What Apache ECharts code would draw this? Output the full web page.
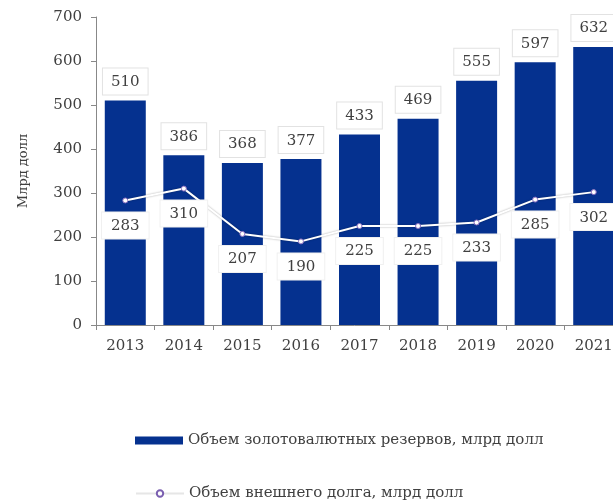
<!DOCTYPE html>
<html><head><meta charset="utf-8">
<script src="https://cdn.jsdelivr.net/npm/echarts@6/dist/echarts.min.js"></script>
<style>html,body{margin:0;padding:0;background:#fff;overflow:hidden}#c{width:613px;height:500px}</style>
</head><body><div id="c"></div>
<script>
var years = ['2013','2014','2015','2016','2017','2018','2019','2020','2021'];
var reserves = [510, 386, 368, 377, 433, 469, 555, 597, 632];
var debt = [283, 310, 207, 190, 225, 225, 233, 285, 302];
var yTicks = {min: 0, max: 700, interval: 100};
var reservesName = 'Объем золотовалютных резервов, млрд долл';
var debtName = 'Объем внешнего долга, млрд долл';
var yName = 'Млрд долл';

var FONT = 'DejaVu Serif';
var TXT = '#404040';
var chart = echarts.init(document.getElementById('c'));
var boxLabel = {
  show: true, fontFamily: FONT, fontSize: 15, color: TXT,
  backgroundColor: '#fff', borderColor: '#e2e2e2', borderWidth: 1,
  padding: [6, 8, 5, 8]
};
var legendBase = {
  orient: 'horizontal', left: 130, itemWidth: 48, itemHeight: 8,
  textStyle: {fontFamily: FONT, fontSize: 15, color: TXT}
};
chart.setOption({
  animation: false,
  backgroundColor: '#fff',
  grid: {left: 96, top: 17, bottom: 175, width: 527, containLabel: false, outerBoundsMode: 'none'},
  xAxis: {
    type: 'category', data: years,
    axisLine: {lineStyle: {color: '#888'}},
    axisTick: {show: true, length: 5, lineStyle: {color: '#888'}},
    axisLabel: {fontFamily: FONT, fontSize: 15, color: TXT, margin: 14}
  },
  yAxis: {
    type: 'value', min: yTicks.min, max: yTicks.max, interval: yTicks.interval,
    name: yName, nameLocation: 'middle', nameRotate: 90, nameGap: 66,
    nameTextStyle: {fontFamily: FONT, fontSize: 13, color: TXT},
    axisLine: {show: true, lineStyle: {color: '#888'}},
    axisTick: {show: true, length: 5, lineStyle: {color: '#888'}},
    axisLabel: {fontFamily: FONT, fontSize: 15, color: TXT, margin: 14},
    splitLine: {show: false}
  },
  legend: [
    Object.assign({}, legendBase, {top: 428, data: [{name: reservesName, icon: 'rect'}]}),
    Object.assign({}, legendBase, {top: 481, data: [{name: debtName, lineStyle: {color: '#e6e6e6', width: 2}, itemStyle: {color: '#fff', borderColor: '#7a5fb0', borderWidth: 2}}]})
  ],
  series: [
    {
      name: reservesName, type: 'bar', data: reserves, barWidth: 41,
      itemStyle: {color: '#05318f'},
      label: Object.assign({}, boxLabel, {position: 'top', distance: 6}),
      z: 2
    },
    {
      name: debtName, type: 'line', data: debt,
      symbol: 'circle', symbolSize: 5,
      itemStyle: {color: '#fff', borderColor: '#8a6fc0', borderWidth: 1},
      lineStyle: {color: '#fff', width: 2, shadowColor: 'rgba(0,0,0,0.35)', shadowBlur: 2},
      label: Object.assign({}, boxLabel, {position: 'bottom', distance: 9, borderColor: '#f0f0f0', padding: [6, 9, 5, 9]}),
      z: 3
    }
  ]
});
</script></body></html>
